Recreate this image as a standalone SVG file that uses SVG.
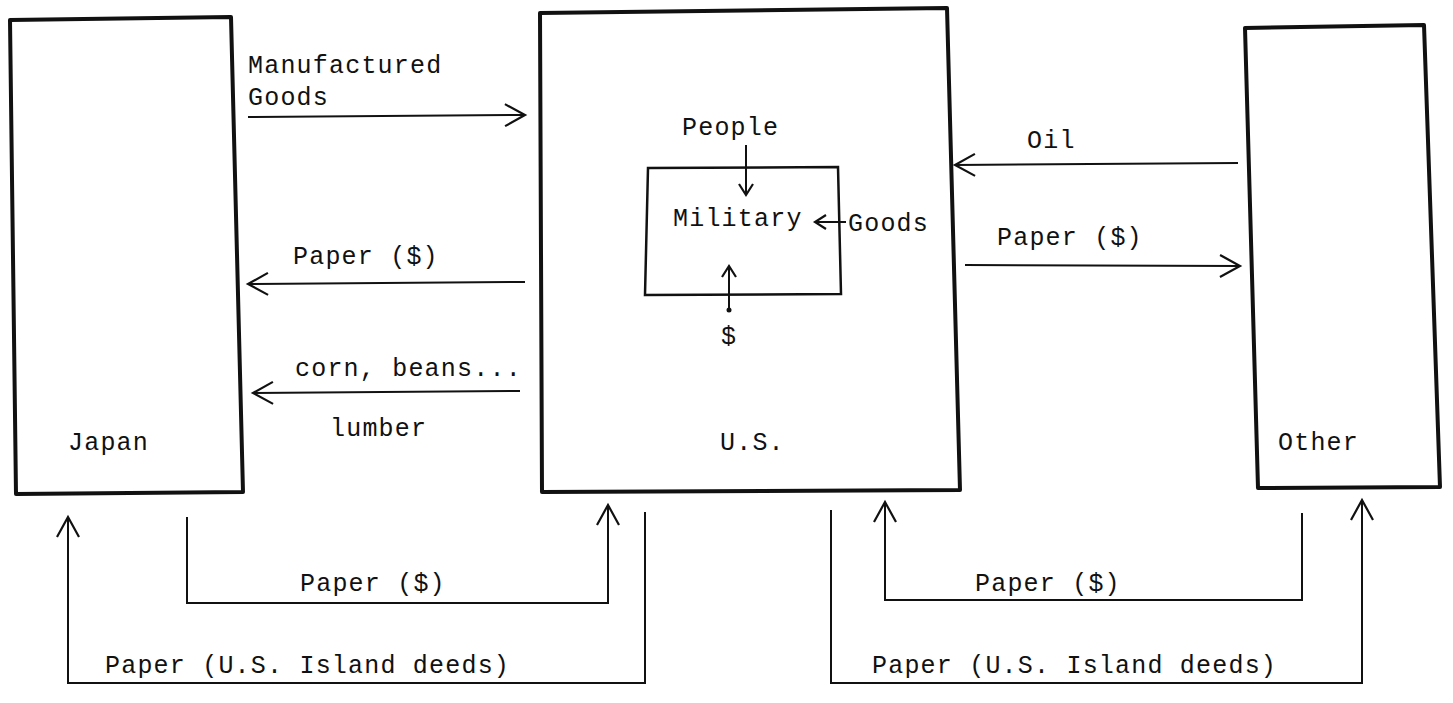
<svg xmlns="http://www.w3.org/2000/svg" width="1453" height="703" viewBox="0 0 1453 703">
<defs>
<style>
.box{fill:none;stroke:#111;stroke-width:4;stroke-linejoin:round}
.inner{fill:none;stroke:#111;stroke-width:2.5}
.c{fill:none;stroke:#111;stroke-width:2}
.big{marker-end:url(#ah)}
.sm{marker-end:url(#ahs)}
text{font-family:"Liberation Mono","Courier New",monospace;font-size:25px;letter-spacing:1.2px;fill:#111}
</style>
<marker id="ah" markerUnits="userSpaceOnUse" markerWidth="40" markerHeight="40" refX="0" refY="0" viewBox="-25 -20 30 40" orient="auto" overflow="visible">
<path d="M-20,-11 L0,0 L-20,11" fill="none" stroke="#111" stroke-width="2.2"/>
</marker>
<marker id="ahs" markerUnits="userSpaceOnUse" markerWidth="30" markerHeight="30" refX="0" refY="0" viewBox="-15 -15 20 30" orient="auto" overflow="visible">
<path d="M-11,-7 L0,0 L-11,7" fill="none" stroke="#111" stroke-width="2.2"/>
</marker>
</defs>
<rect width="1453" height="703" fill="#fff"/>
<g id="japan">
<path class="box" d="M10,20 L231,17 L243,492 L16,494 Z"/>
<text x="68" y="450">Japan</text>
</g>
<g id="us">
<path class="box" d="M540,13 L947,8 L960,490 L542,492 Z"/>
<text x="720" y="450">U.S.</text>
</g>
<g id="military">
<path class="inner" d="M648,168 L838,167 L841,294 L645,295 Z"/>
<text x="673" y="226">Military</text>
</g>
<g id="other">
<path class="box" d="M1245,28 L1424,25 L1440,487 L1258,488 Z"/>
<text x="1278" y="450">Other</text>
</g>
<g id="connectors">
<line class="c big" x1="248" y1="117" x2="525" y2="115"/>
<text x="248" y="73">Manufactured</text>
<text x="248" y="105">Goods</text>
<line class="c big" x1="525" y1="282" x2="248" y2="284"/>
<text x="293" y="264">Paper ($)</text>
<line class="c big" x1="520" y1="391" x2="253" y2="393"/>
<text x="295" y="376">corn, beans...</text>
<text x="330" y="436">lumber</text>
<line class="c big" x1="1238" y1="163" x2="955" y2="165"/>
<text x="1027" y="148">Oil</text>
<line class="c big" x1="965" y1="265" x2="1240" y2="266"/>
<text x="997" y="245">Paper ($)</text>
<line class="c sm" x1="746" y1="145" x2="746" y2="195"/>
<text x="682" y="135">People</text>
<line class="c sm" x1="846" y1="222" x2="815" y2="222"/>
<text x="848" y="231">Goods</text>
<line class="c sm" x1="729" y1="310" x2="729" y2="266"/>
<circle cx="729" cy="310" r="2.5" fill="#111"/>
<text x="721" y="344">$</text>
<path class="c big" d="M187,517 L187,603 L608,603 L608,505"/>
<text x="300" y="591">Paper ($)</text>
<path class="c big" d="M645,512 L645,683 L68,683 L68,517"/>
<text x="105" y="673">Paper (U.S. Island deeds)</text>
<path class="c big" d="M1302,513 L1302,600 L885,600 L885,502"/>
<text x="975" y="591">Paper ($)</text>
<path class="c big" d="M831,510 L831,683 L1362,683 L1362,500"/>
<text x="872" y="673">Paper (U.S. Island deeds)</text>
</g>
</svg>
